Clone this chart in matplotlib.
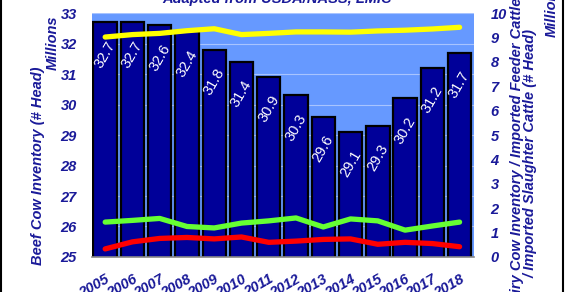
"""
Beef cow inventory (bars) vs dairy cows and imported cattle (lines).
Adapted from USDA/NASS, LMIC.
"""

import matplotlib
matplotlib.use("Agg")
import matplotlib.pyplot as plt
import numpy as np

years = ["2005", "2006", "2007", "2008", "2009", "2010", "2011",
         "2012", "2013", "2014", "2015", "2016", "2017", "2018"]
beef_cows = [32.7, 32.7, 32.6, 32.4, 31.8, 31.4, 30.9,
             30.3, 29.6, 29.1, 29.3, 30.2, 31.2, 31.7]
dairy_cows = [9.02, 9.12, 9.17, 9.28, 9.36, 9.12, 9.17,
              9.23, 9.23, 9.22, 9.27, 9.3, 9.35, 9.42]
feeder_imports = [1.43, 1.5, 1.58, 1.25, 1.19, 1.39, 1.48,
                  1.6, 1.23, 1.56, 1.48, 1.1, 1.27, 1.43]
slaughter_imports = [0.33, 0.62, 0.76, 0.8, 0.74, 0.82, 0.6,
                     0.65, 0.72, 0.74, 0.52, 0.6, 0.55, 0.42]

NAVY = "#1a1a99"
BAR = "#000099"
BG = "#6699ff"

plt.rcParams.update({
    "font.family": ["Liberation Sans", "DejaVu Sans"],
    "font.weight": "bold",
    "font.style": "italic",
})

fig = plt.figure(figsize=(5.65, 2.92), dpi=100)
ax = fig.add_axes([0.163, 0.120, 0.676, 0.835])
ax.set_facecolor(BG)

x = np.arange(len(years))
bars = ax.bar(x, beef_cows, width=0.86, bottom=0, color=BAR,
              edgecolor="black", linewidth=1.6, zorder=2)
ax.set_ylim(25, 33)
ax.set_xlim(-0.48, 13.53)
ax.set_yticks(range(25, 34))
ax.yaxis.grid(True, color="#a8c4ff", linewidth=0.8, zorder=0)
ax.set_axisbelow(True)
ax.tick_params(axis="both", length=0, labelsize=10.5, labelcolor=NAVY)
ax.tick_params(axis="y", pad=11)
ax.set_xticks(x)
ax.set_xticklabels(years, rotation=30, ha="right", va="top",
                   rotation_mode="anchor")
ax.tick_params(axis="x", pad=11)
for s in ["top", "right", "left"]:
    ax.spines[s].set_visible(False)
ax.spines["bottom"].set_color("#888888")
ax.spines["bottom"].set_linewidth(1.2)

# value labels inside the bar tops
for xi, v in zip(x, beef_cows):
    ax.annotate(f"{v:.1f}", (xi, v), xytext=(0, -23), textcoords="offset points",
                ha="center", va="center", rotation=60, color="white",
                fontsize=10.5, fontweight="normal", fontstyle="normal", zorder=4)

ax2 = ax.twinx()
ax2.set_ylim(0, 10)
ax2.set_yticks(range(0, 11))
ax2.tick_params(axis="y", length=0, labelsize=10.5, labelcolor=NAVY, pad=12)
for s in ax2.spines.values():
    s.set_visible(False)
ax2.plot(x, dairy_cows, color="#ffff00", linewidth=3.8, solid_capstyle="round")
ax2.plot(x, feeder_imports, color="#66ff33", linewidth=3.8, solid_capstyle="round")
ax2.plot(x, slaughter_imports, color="#ff0000", linewidth=3.8, solid_capstyle="round")

# axis titles
fig.text(38 / 565, 1 - 166 / 292, "Beef Cow Inventory (# Head)", rotation=90,
         ha="center", va="center", color=NAVY, fontsize=10.5)
fig.text(53 / 565, 1 - 43 / 292, "Millions", rotation=90,
         ha="center", va="center", color=NAVY, fontsize=10.5)
fig.text(524 / 565, 1 - 154 / 292,
         "Dairy Cow Inventory / Imported Feeder Cattle\n/ Imported Slaughter Cattle (# Head)",
         rotation=90, ha="center", va="center", multialignment="center",
         color=NAVY, fontsize=10.5, linespacing=1.0)
fig.text(552 / 565, 1 - 10 / 292, "Millions", rotation=90,
         ha="center", va="center", color=NAVY, fontsize=10.5)

fig.text(277 / 565, 1 - 3 / 292, "Adapted from USDA/NASS, LMIC",
         ha="center", va="baseline", color=NAVY, fontsize=10.5)

# thin frame lines on the left and right edges
for xf in (0.002, 562.5 / 565):
    fig.add_artist(plt.Line2D([xf, xf], [0, 1], transform=fig.transFigure,
                              color="black", linewidth=1.5))

fig.savefig("out.png", dpi=100)
